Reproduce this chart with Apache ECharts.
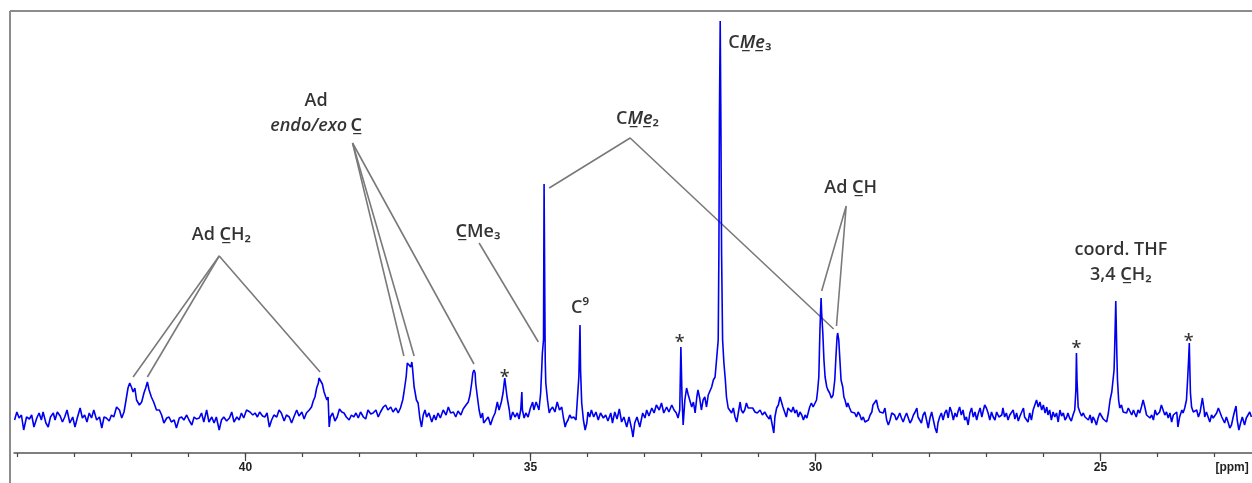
<!DOCTYPE html>
<html>
<head>
<meta charset="utf-8">
<title>13C NMR spectrum</title>
<script src="https://cdn.jsdelivr.net/npm/echarts@6/dist/echarts.min.js"></script>
<style>
  html, body { margin: 0; padding: 0; background: #fff; }
  #chart { width: 1252px; height: 483px; }
</style>
</head>
<body>
<div id="chart"></div>
<script>
// 13C spectrum, chemical shift [ppm] vs. signal intensity (arbitrary units)
const seg44to40 = [
  [44.05,-5],[44.01,3],[43.97,-3],[43.93,0],[43.89,-15],[43.84,-2],[43.79,-4],[43.75,0],[43.71,-12],[43.66,-3],
  [43.62,2],[43.58,-5],[43.55,3],[43.50,-8],[43.46,-12],[43.42,-2],[43.37,2],[43.34,-5],[43.30,3],[43.25,-1],
  [43.21,-7],[43.17,-2],[43.13,5],[43.08,-8],[43.03,-2],[42.99,-12],[42.95,-3],[42.90,7],[42.86,-3],[42.82,0],
  [42.78,-7],[42.74,2],[42.70,-3],[42.66,5],[42.61,-5],[42.56,-2],[42.52,-13],[42.48,-2],[42.44,-3],[42.39,-6],
  [42.35,0],[42.31,-2],[42.26,8],[42.21,5],[42.17,-3],[42.13,3],[42.10,13],[42.06,27],[42.03,32],[42.00,28],
  [41.97,23],[41.94,27],[41.91,15],[41.86,10],[41.82,13],[41.78,22],[41.75,27],[41.72,33],[41.69,25],[41.65,18],
  [41.61,13],[41.56,5],[41.51,5],[41.47,0],[41.43,-8],[41.38,-3],[41.34,-2],[41.30,-7],[41.25,-5],[41.21,-13],
  [41.16,-3],[41.12,-2],[41.08,-5],[41.03,0],[40.99,-5],[40.94,-10],[40.90,-2],[40.86,-4],[40.81,-3],[40.77,2],
  [40.73,-7],[40.68,5],[40.64,-7],[40.59,-2],[40.55,-8],[40.51,-2],[40.46,-15],[40.42,-5],[40.38,-2],[40.33,-6],
  [40.28,-3],[40.24,3],[40.20,-7],[40.15,-2],[40.11,-5],[40.07,2],[40.03,-3]
];
const seg40to35 = [
  [39.98,5],[39.92,3],[39.87,0],[39.83,2],[39.79,-2],[39.75,3],[39.70,-1],[39.66,-2],[39.62,2],[39.58,-12],
  [39.54,-5],[39.50,0],[39.45,-2],[39.41,5],[39.37,2],[39.32,-6],[39.28,0],[39.23,-2],[39.19,-8],[39.15,-2],
  [39.10,5],[39.06,-1],[39.01,3],[38.97,-4],[38.93,2],[38.88,5],[38.84,8],[38.81,14],[38.78,18],[38.75,27],
  [38.72,32],[38.71,37],[38.68,35],[38.65,31],[38.62,23],[38.59,18],[38.57,15],[38.55,18],[38.53,-12],[38.51,-2],
  [38.47,2],[38.43,-6],[38.39,-2],[38.35,6],[38.31,3],[38.27,2],[38.23,-2],[38.18,-5],[38.14,0],[38.10,-2],
  [38.06,2],[38.02,-3],[37.98,3],[37.93,-2],[37.89,-4],[37.85,5],[37.80,1],[37.76,2],[37.71,5],[37.67,-2],
  [37.63,3],[37.58,8],[37.54,10],[37.50,5],[37.45,8],[37.41,3],[37.36,7],[37.32,2],[37.28,7],[37.24,15],
  [37.22,22],[37.20,23],[37.18,38],[37.16,52],[37.13,52],[37.10,48],[37.08,53],[37.07,48],[37.04,28],[37.03,25],
  [37.00,15],[36.97,12],[36.94,-3],[36.91,-12],[36.88,0],[36.85,5],[36.82,-2],[36.78,2],[36.73,-7],[36.69,0],
  [36.66,-5],[36.62,2],[36.58,-3],[36.53,5],[36.48,0],[36.44,8],[36.40,2],[36.35,3],[36.31,-2],[36.27,4],
  [36.22,0],[36.18,6],[36.13,10],[36.09,13],[36.06,20],[36.03,32],[36.01,42],[35.99,45],[35.97,42],[35.96,32],
  [35.93,18],[35.90,5],[35.87,-3],[35.84,2],[35.82,-8],[35.78,-5],[35.74,-2],[35.70,-10],[35.66,-3],[35.62,2],
  [35.58,13],[35.55,5]
];
const seg35to31 = [
  [35.51,13],[35.48,22],[35.45,37],[35.43,35],[35.41,18],[35.37,5],[35.35,-5],[35.31,3],[35.27,-2],[35.23,2],
  [35.20,-4],[35.17,5],[35.15,23],[35.14,5],[35.11,-3],[35.08,2],[35.04,-2],[35.00,7],[34.96,13],[34.94,5],
  [34.90,13],[34.88,10],[34.85,5],[34.82,22],[34.80,48],[34.79,62],[34.77,75],[34.76,231],[34.74,55],[34.73,32],
  [34.70,15],[34.67,2],[34.65,5],[34.61,8],[34.57,3],[34.53,13],[34.49,5],[34.45,8],[34.42,-3],[34.39,-12],
  [34.37,-8],[34.34,-5],[34.31,0],[34.28,-3],[34.24,-2],[34.20,-5],[34.18,12],[34.15,38],[34.13,90],[34.12,45],
  [34.10,12],[34.07,-5],[34.04,-15],[34.01,-8],[33.99,3],[33.96,-2],[33.93,5],[33.89,-2],[33.85,3],[33.81,-5],
  [33.77,2],[33.72,-3],[33.68,0],[33.64,-6],[33.59,2],[33.56,-8],[33.52,3],[33.48,-4],[33.44,6],[33.40,-7],
  [33.36,-2],[33.31,-12],[33.27,-2],[33.22,-15],[33.20,-22],[33.17,-8],[33.13,-2],[33.08,-12],[33.03,2],[32.99,-3],
  [32.96,5],[32.92,-1],[32.87,7],[32.83,2],[32.79,10],[32.74,5],[32.70,12],[32.66,2],[32.61,8],[32.57,3],
  [32.52,10],[32.48,5],[32.44,2],[32.41,-3],[32.38,5],[32.36,68],[32.34,18],[32.32,-10],[32.29,15],[32.26,27],
  [32.23,20],[32.20,18],[32.17,8],[32.14,13],[32.11,2],[32.08,18],[32.06,25],[32.03,17],[32.00,5],[31.97,15],
  [31.94,18],[31.91,8],[31.88,20],[31.85,22],[31.82,28],[31.79,35],[31.76,38],[31.73,58],[31.705,75],[31.693,162],
  [31.684,295],[31.67,394],[31.658,295],[31.646,162],[31.628,75],[31.605,52],[31.58,35],[31.56,18],[31.53,7],[31.50,5],
  [31.47,2],[31.44,7],[31.41,-2],[31.38,-7],[31.35,3],[31.32,13],[31.30,5],[31.27,2],[31.24,5],[31.21,12],
  [31.18,7]
];
const seg31to27 = [
  [31.15,8],[31.10,7],[31.06,3],[31.02,2],[30.97,5],[30.93,0],[30.89,3],[30.85,-1],[30.81,-4],[30.79,0],
  [30.75,-12],[30.73,-18],[30.71,-2],[30.68,7],[30.65,10],[30.62,18],[30.59,12],[30.57,8],[30.54,3],[30.51,-2],
  [30.48,7],[30.45,8],[30.42,3],[30.39,8],[30.36,2],[30.33,5],[30.30,-2],[30.27,3],[30.24,0],[30.21,-5],
  [30.18,0],[30.15,-3],[30.13,-2],[30.10,8],[30.07,12],[30.04,8],[30.01,10],[29.98,15],[29.96,25],[29.94,38],
  [29.93,62],[29.92,85],[29.91,102],[29.90,117],[29.89,102],[29.87,82],[29.85,55],[29.83,38],[29.80,28],[29.78,25],
  [29.75,22],[29.72,17],[29.69,20],[29.66,35],[29.64,58],[29.62,78],[29.61,82],[29.59,75],[29.57,55],[29.55,35],
  [29.52,28],[29.50,18],[29.48,15],[29.45,8],[29.43,12],[29.40,7],[29.37,3],[29.34,5],[29.31,2],[29.28,-2],
  [29.25,3],[29.22,0],[29.19,-5],[29.16,-2],[29.13,-7],[29.10,-8],[29.07,-5],[29.04,0],[29.01,3],[28.99,10],
  [28.96,8],[28.93,15],[28.90,7],[28.87,3],[28.84,5],[28.81,2],[28.78,7],[28.75,-5],[28.72,-10],[28.69,-5],
  [28.66,2],[28.64,3],[28.61,0],[28.58,-5],[28.55,-2],[28.52,2],[28.49,-3],[28.46,-7],[28.43,-2],[28.40,2],
  [28.37,-3],[28.34,-8],[28.31,-5],[28.28,0],[28.25,3],[28.22,7],[28.20,-2],[28.17,-5],[28.14,-8],[28.11,0],
  [28.08,3],[28.05,-5],[28.02,-13],[27.99,-3],[27.96,3],[27.93,-5],[27.90,-13],[27.87,-18],[27.85,-8],[27.82,-2],
  [27.79,2],[27.76,-5],[27.73,2],[27.70,5],[27.67,-3],[27.64,8],[27.61,3],[27.58,-5],[27.55,2],[27.52,-2],
  [27.50,3],[27.47,8],[27.44,0],[27.41,5],[27.38,-5],[27.35,-2],[27.32,-10],[27.29,2],[27.26,7],[27.23,-2],
  [27.20,3],[27.17,-5],[27.14,2],[27.11,7],[27.08,-2],[27.06,3],[27.03,10],[27.00,7],[26.97,2],[26.94,-5],
  [26.91,3],[26.88,-2],[26.85,-5],[26.82,3],[26.78,-2]
];
const seg27to22 = [
  [26.73,0],[26.71,7],[26.68,-2],[26.65,2],[26.62,-5],[26.59,0],[26.56,-2],[26.53,5],[26.50,-4],[26.47,2],
  [26.44,-6],[26.41,-1],[26.38,3],[26.35,7],[26.33,-2],[26.30,0],[26.27,-7],[26.24,2],[26.21,-5],[26.18,5],
  [26.15,10],[26.12,15],[26.09,8],[26.06,13],[26.03,5],[26.00,10],[25.97,2],[25.94,8],[25.92,0],[25.89,5],
  [25.86,-5],[25.83,3],[25.80,-2],[25.77,2],[25.74,-7],[25.71,5],[25.68,-1],[25.65,2],[25.62,-5],[25.59,-2],
  [25.57,2],[25.54,-3],[25.51,-6],[25.48,0],[25.45,5],[25.43,25],[25.42,62],[25.41,35],[25.39,8],[25.36,3],
  [25.33,-1],[25.30,2],[25.27,-2],[25.24,-1],[25.21,-5],[25.18,0],[25.15,-8],[25.13,-2],[25.10,-5],[25.07,-10],
  [25.04,-3],[25.01,2],[24.98,3],[24.95,-4],[24.92,-2],[24.89,-7],[24.86,2],[24.83,15],[24.80,23],[24.78,22],
  [24.76,45],[24.75,65],[24.73,114],[24.71,58],[24.70,35],[24.68,15],[24.66,7],[24.63,10],[24.60,3],[24.57,5],
  [24.54,2],[24.51,7],[24.48,5],[24.45,0],[24.42,5],[24.40,2],[24.37,-2],[24.34,5],[24.31,2],[24.28,8],
  [24.25,15],[24.22,8],[24.19,0],[24.16,2],[24.13,-3],[24.10,0],[24.07,-5],[24.04,5],[24.01,0],[23.99,-2],
  [23.96,3],[23.93,10],[23.90,8],[23.87,0],[23.84,3],[23.81,-3],[23.78,2],[23.75,-7],[23.72,0],[23.69,-2],
  [23.66,3],[23.64,-12],[23.61,-2],[23.57,5],[23.55,2],[23.52,7],[23.49,15],[23.47,35],[23.45,58],[23.44,72],
  [23.43,45],[23.42,22],[23.40,8],[23.37,3],[23.34,2],[23.31,5],[23.28,-2],[23.25,3],[23.23,10],[23.21,17],
  [23.18,5],[23.17,-2],[23.14,3],[23.11,-2],[23.08,-7],[23.05,0],[23.02,-3],[22.99,-5],[22.96,2],[22.93,7],
  [22.90,5],[22.87,-2],[22.85,0],[22.82,-8],[22.79,-2],[22.76,-7],[22.73,-13],[22.70,-10],[22.67,-2],[22.64,5],
  [22.62,9],[22.60,-5],[22.57,-15],[22.54,-8],[22.51,-2],[22.47,-10],[22.44,-3],[22.41,0],[22.38,3],[22.35,-2]
];

// axis ticks
const minorTicks = [23,24,25,26,27,28,29,30,31,32,33,34,35,36,37,38,39,40,41,42,43,44];
const majorTicks = [25,30,35,40];
const unitLabelAt = 22.69;

// peak assignments: position [ppm, intensity] and rich-text label
const assignPos = [[40.42,180],[38.76,302],[35.92,183],[34.13,107],[33.12,296],[31.15,372],[29.38,227],[24.64,153]];
const assignText = [
  '{r|Ad C\u0332H\u2082}',
  '{r|Ad}\n{i|endo/exo} {r|C\u0332}',
  '{r|C\u0332Me\u2083}',
  '{r|C\u2079}',
  '{r|C}{i|M\u0332e\u0332}{r|\u2082}',
  '{r|C}{i|M\u0332e\u0332}{r|\u2083}',
  '{r|Ad C\u0332H}',
  '{r|coord. THF}\n{r|3,4 C\u0332H\u2082}'
];
// impurity signals marked with an asterisk
const starPos = [[35.45,42],[32.38,77],[25.42,71],[23.45,78]];

// leader lines from each assignment to its peak(s)
const leaders = [
  [[41.97,38],[40.46,159],[38.69,43]],
  [[41.72,38],[40.46,159]],
  [[37.22,59],[38.12,272],[35.99,51]],
  [[37.04,59],[38.12,272]],
  [[35.90,172],[34.86,73]],
  [[34.67,227],[33.25,277],[29.68,86]],
  [[29.89,124],[29.46,209],[29.63,89]]
];

const spectrum = [].concat(seg44to40, seg40to35, seg35to31, seg31to27, seg27to22);

const FONT = '"Open Sans", "Noto Sans", "DejaVu Sans", sans-serif';
const rich = {
  r: { fontFamily: FONT, fontSize: 18, fontWeight: 600, color: '#000', lineHeight: 25 },
  i: { fontFamily: FONT, fontSize: 18, fontWeight: 600, color: '#000', fontStyle: 'italic', lineHeight: 25 }
};

const chart = echarts.init(document.getElementById('chart'), null, { renderer: 'canvas' });

const xRange = { min: 22.34, max: 44.06, inverse: true };

const leaderSeries = leaders.map(pts => ({
  type: 'line',
  data: pts,
  silent: true,
  symbol: 'none',
  z: 1,
  lineStyle: { color: '#7a7a7a', width: 1.6 }
}));

chart.setOption({
  animation: false,
  backgroundColor: '#ffffff',
  grid: { left: 14, right: 0, top: 20, bottom: 30, containLabel: false },
  xAxis: [
    Object.assign({
      type: 'value',
      position: 'bottom',
      axisLine: { show: true, onZero: false, lineStyle: { color: '#555', width: 1.5 } },
      axisTick: { show: true, customValues: minorTicks, length: 4, lineStyle: { color: '#444', width: 1.2 } },
      axisLabel: { show: false },
      splitLine: { show: false }
    }, xRange),
    Object.assign({
      type: 'value',
      position: 'bottom',
      axisLine: { show: false, onZero: false },
      axisTick: { show: true, customValues: majorTicks, length: 8, lineStyle: { color: '#444', width: 1.2 } },
      axisLabel: {
        show: true,
        customValues: majorTicks.concat([unitLabelAt]),
        formatter: v => (v < 24 ? '[ppm]' : String(v)),
        fontFamily: '"Liberation Sans", Arial, sans-serif',
        fontWeight: 'bold',
        fontSize: 12,
        color: '#222',
        margin: 9
      },
      splitLine: { show: false }
    }, xRange)
  ],
  yAxis: { type: 'value', min: -38, max: 395, show: false },
  graphic: [
    { type: 'line', shape: { x1: 10, y1: 11, x2: 1252, y2: 11 }, style: { stroke: '#8c8c8c', lineWidth: 2 }, silent: true },
    { type: 'line', shape: { x1: 10, y1: 11, x2: 10, y2: 483 }, style: { stroke: '#8c8c8c', lineWidth: 2 }, silent: true }
  ],
  series: leaderSeries.concat([
    {
      type: 'line',
      data: spectrum,
      symbol: 'none',
      silent: true,
      z: 3,
      lineStyle: { color: '#0000f0', width: 1.6 }
    },
    {
      type: 'scatter',
      symbolSize: 0,
      silent: true,
      z: 5,
      data: assignPos.map((p, k) => ({ value: p, label: { formatter: assignText[k] } })),
      label: { show: true, position: 'inside', align: 'center', verticalAlign: 'middle', rich: rich }
    },
    {
      type: 'scatter',
      symbolSize: 0,
      silent: true,
      z: 5,
      data: starPos,
      label: {
        show: true,
        position: 'inside',
        formatter: '*',
        offset: [0, 5],
        fontFamily: FONT,
        fontSize: 18,
        fontWeight: 600,
        color: '#000'
      }
    }
  ])
});
</script>
</body>
</html>
